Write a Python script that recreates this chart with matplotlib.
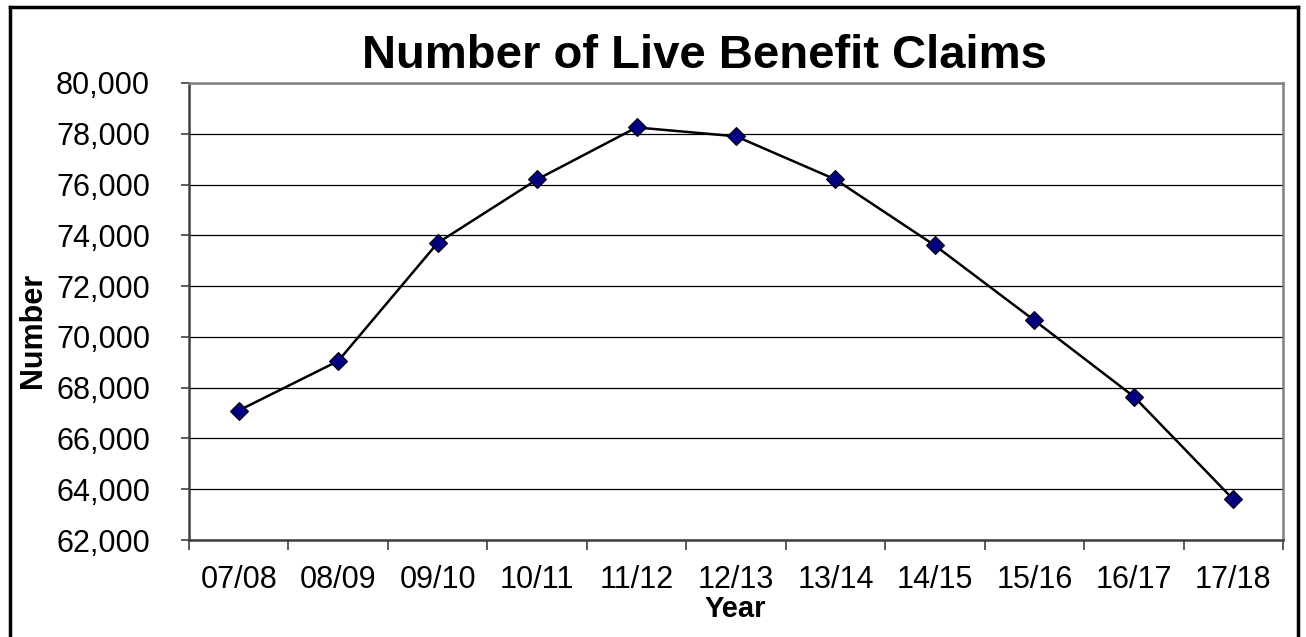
import matplotlib
matplotlib.use("Agg")
import matplotlib.pyplot as plt
from matplotlib.lines import Line2D
from matplotlib.ticker import FuncFormatter, FixedLocator

plt.rcParams['font.family'] = ['Liberation Sans', 'DejaVu Sans']

# data
years = ['07/08', '08/09', '09/10', '10/11', '11/12', '12/13',
         '13/14', '14/15', '15/16', '16/17', '17/18']
claims = [67100, 69050, 73700, 76200, 78250, 77900,
          76200, 73600, 70650, 67650, 63600]

W, H = 1306, 637
fig = plt.figure(figsize=(W / 100, H / 100), dpi=100)

# outer chart border (top, left, right; bottom runs off the image)
for xs, ys in [([10, 1298], [7, 7]), ([10, 10], [7, 640]), ([1298, 1298], [7, 640])]:
    fig.add_artist(Line2D([x / W for x in xs], [1 - y / H for y in ys],
                          color='black', lw=2.5, transform=fig.transFigure))

ax = fig.add_axes([189 / W, 1 - 540 / H, 1094 / W, 457 / H])

x = list(range(len(years)))
ax.plot(x, claims, color='black', lw=1.8, marker='D', markersize=9,
        markerfacecolor='#000080', markeredgecolor='black', markeredgewidth=0.8,
        zorder=3)

ax.set_xlim(-0.5, len(years) - 0.5)
ax.set_ylim(62000, 80000)
ax.set_yticks(range(62000, 80001, 2000))
ax.yaxis.set_major_formatter(FuncFormatter(lambda v, p: f'{int(v):,}'))
ax.grid(axis='y', color='black', lw=0.9)
ax.set_axisbelow(True)

# x ticks between categories, labels centred on categories
ax.xaxis.set_major_locator(FixedLocator([i - 0.5 for i in range(len(years) + 1)]))
ax.xaxis.set_minor_locator(FixedLocator(x))
ax.set_xticklabels([], minor=False)
ax.set_xticklabels(years, minor=True)
ax.tick_params(axis='x', which='major', length=7, width=1.2, color='#404040')
ax.tick_params(axis='x', which='minor', length=0, pad=18, labelsize=22)
ax.tick_params(axis='y', length=6, width=1.2, color='#404040', pad=22, labelsize=22)

for s in ['left', 'bottom']:
    ax.spines[s].set_color('#404040')
    ax.spines[s].set_linewidth(1.8)
for s in ['top', 'right']:
    ax.spines[s].set_color('#808080')
    ax.spines[s].set_linewidth(1.8)

fig.text(704 / W, 1 - 56 / H, 'Number of Live Benefit Claims', fontsize=34,
         fontweight='bold', ha='center', va='center')
fig.text(33 / W, 1 - 330 / H, 'Number', fontsize=22, fontweight='bold',
         rotation=90, ha='center', va='center')
fig.text(735 / W, 1 - 609 / H, 'Year', fontsize=21, fontweight='bold',
         ha='center', va='center')

fig.savefig('out.png', dpi=100)
